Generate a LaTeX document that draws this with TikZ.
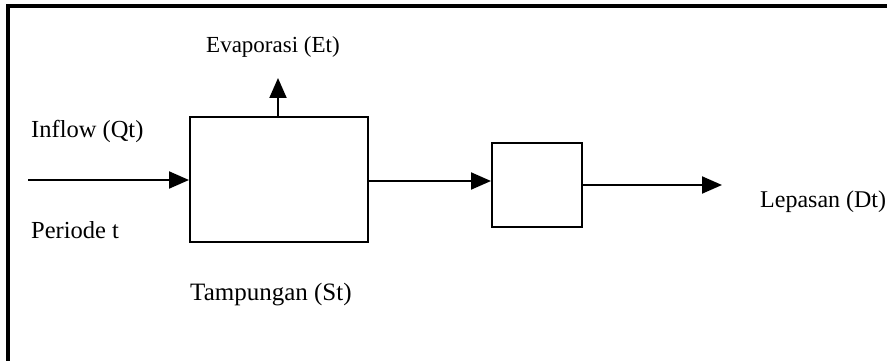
\documentclass[tikz,border=0pt]{standalone}
\usepackage{fontspec}
\setmainfont{Liberation Serif}
\usetikzlibrary{arrows.meta}
\begin{document}
\begin{tikzpicture}[x=1pt,y=-1pt,
  block/.style={draw, line width=2pt, inner sep=0pt},
  flow/.style={line width=2pt, -{Triangle[length=20pt,width=17pt]}},
  lbl/.style={font=\fontsize{24.5}{28}\selectfont, inner sep=0pt, anchor=base west}]
\useasboundingbox (0,0) rectangle (887,361);
\clip (0,0) rectangle (887,361);
% outer frame (only its top and left edges fall inside the page)
\draw[line width=4pt] (8,6) rectangle (950,420);

% reservoir and release blocks
\node[block, minimum width=178pt, minimum height=125pt] (store) at (279,179.5) {};
\node[block, minimum width=90pt, minimum height=84pt] (gate) at (537,185) {};

% free ends of the flows
\coordinate (inflow) at (28,180);
\coordinate (evap) at (278,78);
\coordinate (release) at (722,185);

% flows
\draw[flow] (inflow) -- (inflow -| store.west);
\draw[flow] (store.north -| evap) -- (evap);
\draw[flow] ([yshift=-1.5pt]store.east) -- ([yshift=-1.5pt]store.east -| gate.west);
\draw[flow] (gate.east) -- (release);

% labels
\node[lbl, font=\fontsize{23}{27}\selectfont] (lEvap) at (206,53) {Evaporasi (Et)};
\node[lbl] (lIn) at (31,138) {Inflow (Qt)};
\node[lbl] (lPer) at (31,238) {Periode t};
\node[lbl, font=\fontsize{25}{29}\selectfont] (lSt) at (190,300) {Tampungan (St)};
\node[lbl, font=\fontsize{24}{28}\selectfont] (lOut) at (760,207) {Lepasan (Dt)};
\end{tikzpicture}
\end{document}
